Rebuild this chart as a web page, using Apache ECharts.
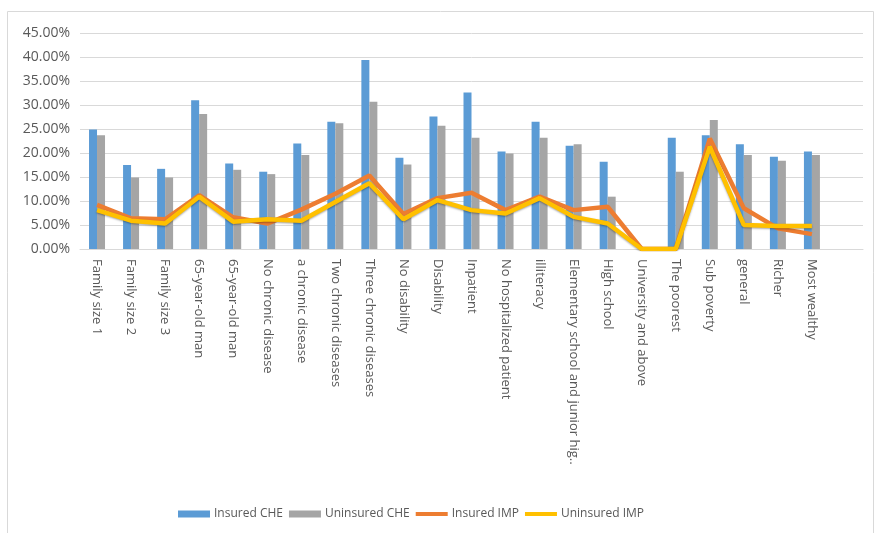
<!DOCTYPE html>
<html>
<head>
<meta charset="utf-8">
<script src="https://cdn.jsdelivr.net/npm/echarts@6/dist/echarts.min.js"></script>
<style>
  html, body { margin: 0; padding: 0; background: #fff; }
  #chart { width: 876px; height: 533px; }
</style>
</head>
<body>
<div id="chart"></div>
<script>
// categories (last one is an empty slot, as in the original plot area)
var categories = [
    'Family size 1', 'Family size 2', 'Family size 3', '65-year-old man', '65-year-old man',
    'No chronic disease', 'a chronic disease', 'Two chronic diseases', 'Three chronic diseases',
    'No disability', 'Disability', 'Inpatient', 'No hospitalized patient', 'illiteracy',
    'Elementary school and junior hig..', 'High school', 'University and above', 'The poorest',
    'Sub poverty', 'general', 'Richer', 'Most wealthy', ''
];

// values in percent
var insuredCHE   = [24.9, 17.5, 16.7, 31.0, 17.8, 16.1, 22.0, 26.5, 39.4, 19.0, 27.6, 32.6, 20.3, 26.5, 21.5, 18.2, 0, 23.2, 23.7, 21.8, 19.2, 20.3, null];
var uninsuredCHE = [23.7, 14.9, 14.9, 28.1, 16.5, 15.6, 19.6, 26.2, 30.7, 17.6, 25.7, 23.2, 19.9, 23.2, 21.8, 10.9, 0, 16.1, 26.9, 19.6, 18.4, 19.6, null];
var insuredIMP   = [9.2, 6.4, 6.2, 11.2, 6.6, 5.3, 8.2, 11.5, 15.3, 7.3, 10.6, 11.7, 8.1, 10.9, 8.1, 8.8, 0, 0, 23.0, 8.5, 4.3, 3.1, null];
var uninsuredIMP = [8.1, 5.9, 5.3, 10.9, 5.7, 6.2, 5.9, 9.8, 13.7, 6.2, 10.2, 8.1, 7.4, 10.6, 6.7, 5.3, 0, 0, 21.3, 5.0, 4.8, 4.8, null];

var yMax = 45;
var yStep = 5;

var lineIcon = 'path://M0,0H32V4H0Z';

var chart = echarts.init(document.getElementById('chart'));

var option = {
    animation: false,
    textStyle: { fontFamily: 'Open Sans, Liberation Sans, sans-serif' },
    graphic: [{
        type: 'rect',
        shape: { x: 7.5, y: 11.5, width: 866, height: 540 },
        style: { fill: 'none', stroke: '#d9d9d9', lineWidth: 1 },
        silent: true
    }],
    grid: {
        left: 80,
        right: 13,
        top: 33,
        bottom: 284
    },
    legend: {
        bottom: 8,
        left: 173,
        itemWidth: 32,
        itemHeight: 7,
        itemGap: 6,
        symbolKeepAspect: true,
        textStyle: { color: '#595959', fontSize: 12, padding: [0, 0, 0, -1] },
        data: [
            { name: 'Insured CHE', icon: 'rect' },
            { name: 'Uninsured CHE', icon: 'rect' },
            { name: 'Insured IMP', icon: lineIcon },
            { name: 'Uninsured IMP', icon: lineIcon }
        ]
    },
    xAxis: {
        type: 'category',
        data: categories,
        axisLine: { lineStyle: { color: '#d9d9d9' } },
        axisTick: { show: false },
        axisLabel: {
            rotate: -90,
            interval: 0,
            color: '#595959',
            fontSize: 13,
            margin: 10
        }
    },
    yAxis: {
        type: 'value',
        min: 0,
        max: yMax,
        interval: yStep,
        axisLine: { show: false },
        axisTick: { show: false },
        splitLine: { lineStyle: { color: '#d9d9d9' } },
        axisLabel: {
            color: '#595959',
            fontSize: 14,
            margin: 10,
            formatter: function (v) { return v.toFixed(2) + '%'; }
        }
    },
    series: [
        {
            name: 'Insured CHE',
            type: 'bar',
            barWidth: 8,
            barGap: '0%',
            itemStyle: { color: '#5b9bd5' },
            data: insuredCHE
        },
        {
            name: 'Uninsured CHE',
            type: 'bar',
            barWidth: 8,
            itemStyle: { color: '#a5a5a5' },
            data: uninsuredCHE
        },
        {
            name: 'Insured IMP',
            type: 'line',
            symbol: 'none',
            lineStyle: { color: '#ed7d31', width: 4.5 },
            itemStyle: { color: '#ed7d31' },
            data: insuredIMP
        },
        {
            name: 'Uninsured IMP',
            type: 'line',
            symbol: 'none',
            lineStyle: { color: '#ffc000', width: 4.5, shadowColor: 'rgba(0,0,0,0.35)', shadowBlur: 2, shadowOffsetY: 1 },
            itemStyle: { color: '#ffc000' },
            data: uninsuredIMP
        }
    ]
};

chart.setOption(option);
</script>
</body>
</html>
